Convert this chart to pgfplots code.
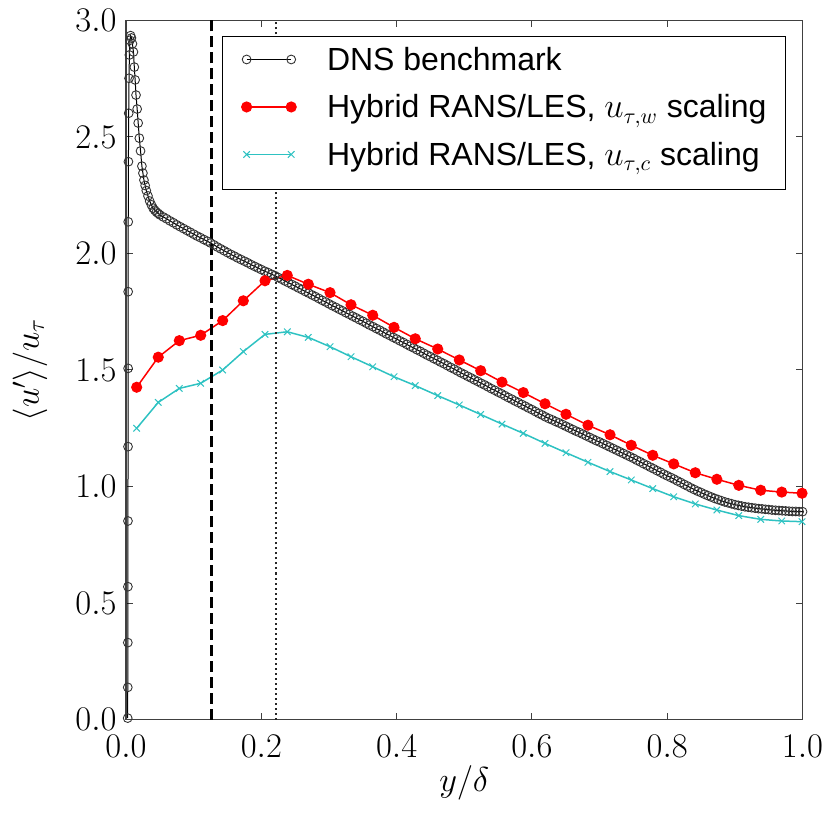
\documentclass[border=0pt]{standalone}
\usepackage{fontspec}
\setmainfont{Liberation Sans}
\usepackage{pgfplots}
\usepackage{pgfplotstable}
\pgfplotsset{compat=1.18}
\definecolor{hybcyan}{HTML}{2EC2C2}

% DNS benchmark profile
\pgfplotstableread{
x y
0.0025 0.006
0.0026 0.138
0.0027 0.330
0.0028 0.570
0.0029 0.852
0.0030 1.171
0.0031 1.507
0.0032 1.836
0.0033 2.136
0.0036 2.394
0.0040 2.602
0.0045 2.752
0.0050 2.852
0.0058 2.915
0.0068 2.935
0.0080 2.925
0.0095 2.900
0.0110 2.865
0.0123 2.800
0.0135 2.745
0.0148 2.680
0.0165 2.620
0.0180 2.560
0.0197 2.495
0.0215 2.440
0.0235 2.375
0.0250 2.345
0.0265 2.315
0.0283 2.292
0.0300 2.270
0.0325 2.247
0.0350 2.225
0.0375 2.209
0.0400 2.195
0.0425 2.186
0.0450 2.178
0.0475 2.172
0.050 2.166
0.055 2.157
0.060 2.149
0.065 2.140
0.070 2.132
0.075 2.123
0.080 2.115
0.085 2.107
0.090 2.099
0.095 2.091
0.100 2.083
0.105 2.075
0.110 2.068
0.115 2.060
0.120 2.053
0.125 2.045
0.130 2.037
0.135 2.028
0.140 2.020
0.145 2.012
0.150 2.004
0.155 1.996
0.160 1.989
0.165 1.981
0.170 1.974
0.175 1.967
0.180 1.960
0.185 1.952
0.190 1.945
0.195 1.938
0.200 1.931
0.205 1.924
0.210 1.918
0.215 1.911
0.220 1.905
0.225 1.897
0.230 1.890
0.235 1.882
0.240 1.875
0.245 1.867
0.250 1.860
0.255 1.852
0.260 1.845
0.265 1.837
0.270 1.830
0.275 1.822
0.280 1.815
0.285 1.807
0.290 1.799
0.295 1.792
0.300 1.784
0.305 1.776
0.310 1.769
0.315 1.761
0.320 1.754
0.325 1.746
0.330 1.739
0.335 1.731
0.340 1.724
0.345 1.716
0.350 1.709
0.355 1.701
0.360 1.693
0.365 1.686
0.370 1.678
0.375 1.671
0.380 1.663
0.385 1.655
0.390 1.648
0.395 1.640
0.400 1.633
0.405 1.625
0.410 1.618
0.415 1.610
0.420 1.602
0.425 1.595
0.430 1.587
0.435 1.580
0.440 1.572
0.445 1.564
0.450 1.557
0.455 1.549
0.460 1.542
0.465 1.534
0.470 1.527
0.475 1.519
0.480 1.511
0.485 1.504
0.490 1.496
0.495 1.488
0.500 1.481
0.505 1.473
0.510 1.466
0.515 1.458
0.520 1.451
0.525 1.443
0.530 1.436
0.535 1.428
0.540 1.420
0.545 1.413
0.550 1.405
0.555 1.398
0.560 1.390
0.565 1.382
0.570 1.375
0.575 1.367
0.580 1.360
0.585 1.352
0.590 1.345
0.595 1.337
0.600 1.330
0.605 1.322
0.610 1.314
0.615 1.307
0.620 1.299
0.625 1.292
0.630 1.286
0.635 1.279
0.640 1.273
0.645 1.266
0.650 1.259
0.655 1.252
0.660 1.245
0.665 1.238
0.670 1.232
0.675 1.225
0.680 1.218
0.685 1.211
0.690 1.204
0.695 1.197
0.700 1.191
0.705 1.184
0.710 1.177
0.715 1.170
0.720 1.163
0.725 1.156
0.730 1.149
0.735 1.142
0.740 1.135
0.745 1.128
0.750 1.121
0.755 1.113
0.760 1.106
0.765 1.098
0.770 1.091
0.775 1.083
0.780 1.076
0.785 1.068
0.790 1.061
0.795 1.053
0.800 1.046
0.805 1.039
0.810 1.032
0.815 1.024
0.820 1.017
0.825 1.009
0.830 1.002
0.835 0.994
0.840 0.987
0.845 0.980
0.850 0.974
0.855 0.967
0.860 0.961
0.865 0.955
0.870 0.949
0.875 0.944
0.880 0.939
0.885 0.934
0.890 0.930
0.895 0.926
0.900 0.922
0.905 0.919
0.910 0.916
0.915 0.913
0.920 0.911
0.925 0.909
0.930 0.907
0.935 0.905
0.940 0.904
0.945 0.902
0.950 0.901
0.955 0.899
0.960 0.898
0.965 0.897
0.970 0.896
0.975 0.895
0.980 0.894
0.985 0.893
0.990 0.893
0.995 0.892
1.000 0.892
}\dnstable

% Hybrid RANS/LES, two scalings
\pgfplotstableread{
x w c
0.0158 1.426 1.250
0.0477 1.555 1.361
0.0788 1.626 1.421
0.1104 1.649 1.443
0.1429 1.712 1.500
0.1734 1.797 1.579
0.2055 1.883 1.653
0.2384 1.906 1.664
0.2695 1.868 1.640
0.3016 1.832 1.600
0.3326 1.780 1.557
0.3647 1.735 1.514
0.3962 1.683 1.471
0.4276 1.634 1.433
0.4608 1.590 1.390
0.4927 1.543 1.350
0.5243 1.497 1.309
0.5558 1.448 1.268
0.5873 1.403 1.228
0.6194 1.355 1.185
0.6504 1.310 1.145
0.6829 1.263 1.104
0.7155 1.222 1.064
0.7469 1.177 1.028
0.7786 1.134 0.991
0.8096 1.097 0.956
0.8415 1.059 0.925
0.8734 1.031 0.899
0.9058 1.005 0.875
0.9382 0.984 0.859
0.9693 0.976 0.852
0.9993 0.971 0.849
}\hybtable

\begin{document}
\begin{tikzpicture}
\begin{axis}[
    scale only axis,
    width=338.25pt, height=349.5pt,
    xmin=0, xmax=1, ymin=0, ymax=3,
    xtick={0,0.2,0.4,0.6,0.8,1.0},
    ytick={0,0.5,1.0,1.5,2.0,2.5,3.0},
    /pgf/number format/fixed,
    /pgf/number format/fixed zerofill,
    /pgf/number format/precision=1,
    tick label style={font=\fontsize{16.5}{18}\selectfont, inner sep=1pt},
    xticklabel style={yshift=-6.5pt},
    yticklabel style={xshift=-3.5pt},
    tick align=inside,
    major tick length=3.5pt,
    every tick/.style={black!75, line width=0.5pt},
    axis line style={black!75, line width=0.7pt},
    xlabel={$y/\delta$},
    ylabel={$\langle u' \rangle/u_\tau$},
    label style={font=\fontsize{18.5}{22}\selectfont},
    xlabel style={at={(axis description cs:0.5,-0.09)}, anchor=center},
    ylabel style={at={(axis description cs:-0.142,0.5)}, anchor=center},
    legend cell align=left,
    legend image code/.code={\draw[mark repeat=1,mark phase=1,#1] plot coordinates {(0pt,3pt) (22.3pt,3pt)};},
    legend style={
        at={(0.9756,0.978)}, anchor=north east,
        draw=black, fill=white, line width=0.6pt,
        font=\fontsize{16}{18}\selectfont,
        inner xsep=9.5pt, inner ysep=4pt,
        column sep=15.5pt, row sep=2.75pt,
        nodes={inner xsep=0pt, inner ysep=0pt, text height=13pt, text depth=8pt},
    },
]
\addplot[black, line width=0.5pt, mark=o, mark size=2.2pt,
    mark options={draw=black!80, line width=0.45pt}]
    table[x=x, y=y] {\dnstable};
\addlegendentry{DNS benchmark}

\addplot[red, line width=0.75pt, mark=*, mark size=2.4pt,
    mark options={fill=red, draw=red}]
    table[x=x, y=w] {\hybtable};
\addlegendentry{Hybrid RANS/LES, $u_{\tau,w}$ scaling}

\addplot[hybcyan, line width=0.75pt, mark=x, mark size=2.3pt,
    mark options={line width=0.5pt}]
    table[x=x, y=c] {\hybtable};
\addlegendentry{Hybrid RANS/LES, $u_{\tau,c}$ scaling}

% interface locations
\addplot[black, line width=1.5pt, dash pattern=on 5.5pt off 2.5pt, forget plot]
    coordinates {(0.126,0) (0.126,3)};
\addplot[black!85, line width=1pt, dash pattern=on 1pt off 1.5pt, forget plot]
    coordinates {(0.221,0) (0.221,3)};
\end{axis}
\pgfresetboundingbox
\path[use as bounding box] ([xshift=-63pt,yshift=-46.25pt]current axis.south west)
    rectangle ([xshift=9.75pt,yshift=10.25pt]current axis.north east);
\end{tikzpicture}
\end{document}
